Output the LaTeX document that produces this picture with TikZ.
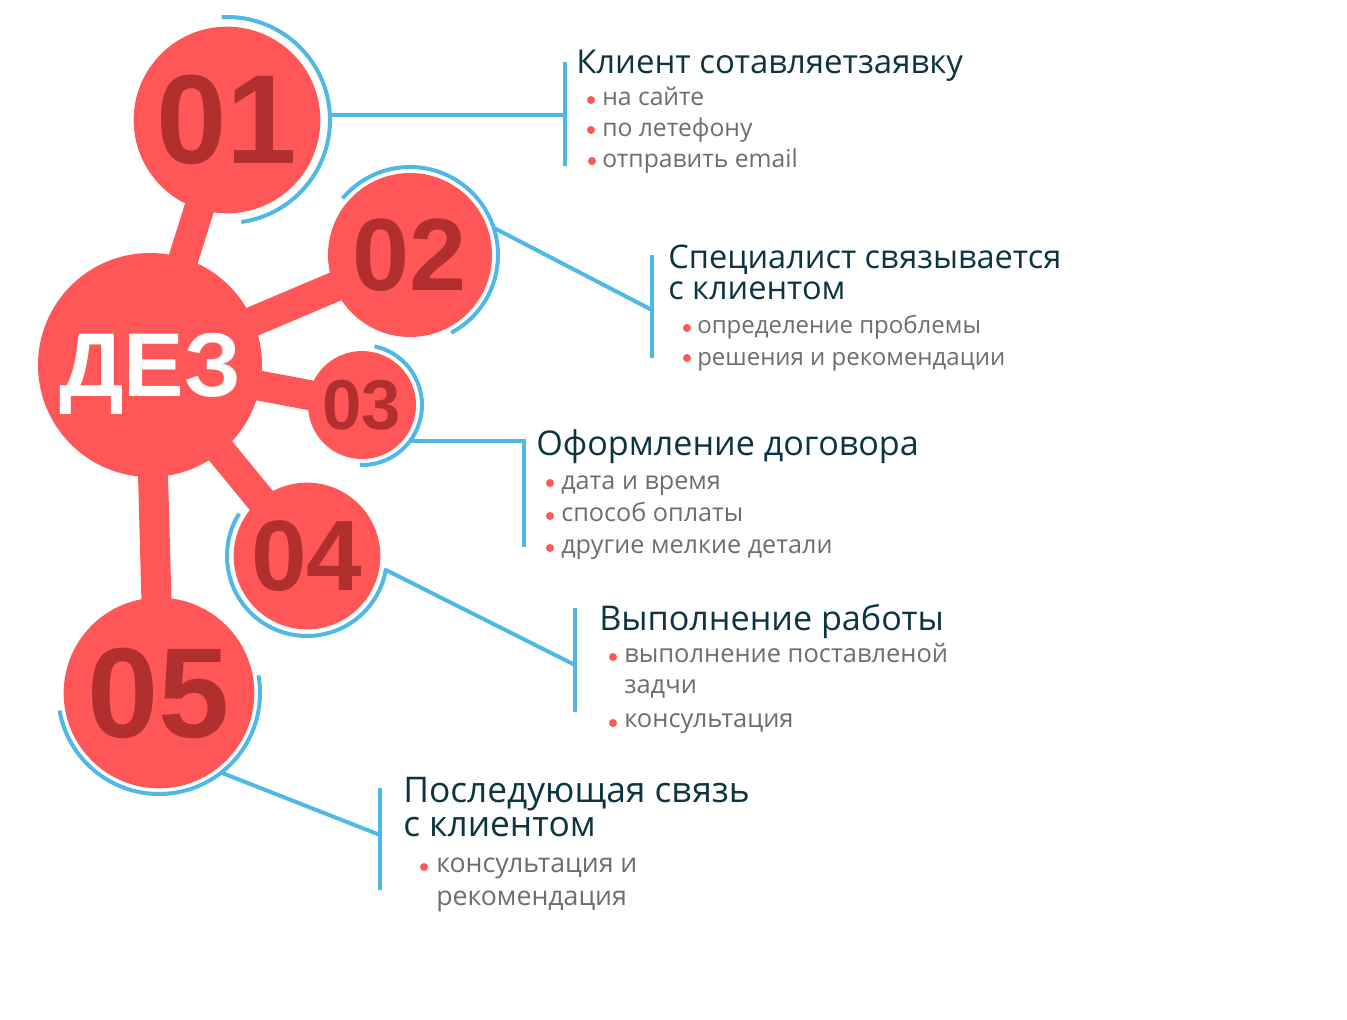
\documentclass[tikz,border=0pt]{standalone}
\usepackage{fontspec}
\setmainfont{Open Sans}
\newfontfamily\numfont{Liberation Sans}
\usetikzlibrary{calc,backgrounds}
\definecolor{ballred}{HTML}{FF5757}
\definecolor{numred}{HTML}{B12F2F}
\definecolor{ringblue}{HTML}{50B8E6}
\definecolor{headcol}{HTML}{0D3441}
\definecolor{itemcol}{HTML}{6B6E70}

\begin{document}
\begin{tikzpicture}[
    x=0.75pt, y=-0.75pt,
    every node/.style={inner sep=0pt},
    ball/.style n args={2}{circle, fill=ballred, minimum size=#1, text=numred,
      font=\numfont\bfseries\fontsize{#2}{#2}\selectfont},
    stem/.style={draw=ballred, line width=22.5pt},
    ring/.style={draw=ringblue, line width=3pt},
    link/.style={draw=ringblue, line width=3pt},
    head/.style={anchor=base west, text=headcol, font=\fontsize{#1}{#1}\selectfont},
    head/.default=24.5pt,
    item/.style={anchor=base west, text=itemcol, font=\fontsize{#1}{#1}\selectfont},
    item/.default=18.5pt,
  ]
    \useasboundingbox (0,0) rectangle (1347,1020);

    % balls
    \node[ball={168pt}{68pt}, text=white, text depth=0pt] (dez) at (150,365) {ДЕЗ};
    \node[ball={140pt}{95pt}] (c1) at (227,120) {01};
    \node[ball={123pt}{77pt}] (c2) at (410,255) {02};
    \node[ball={81pt}{53pt}] (c3) at (362,405) {03};
    \node[ball={110pt}{75pt}] (c4) at (307,556) {04};
    \node[ball={143pt}{96pt}] (c5) at (159,693) {05};

    % stems behind the balls
    \begin{scope}[on background layer]
      \draw[stem] (dez.center) -- (c1.center);
      \draw[stem] (dez.center) -- (c2.center);
      \draw[stem] (dez.center) -- (c3.center);
      \draw[stem] (dez.center) -- (c4.center);
      \draw[stem] (dez.center) -- (c5.center);
    \end{scope}

    % blue rings
    \draw[ring] (c1.center) ++(-93:103) arc[start angle=-93, end angle=82, radius=103];
    \draw[ring] (c2.center) ++(-140:88) arc[start angle=-140, end angle=62, radius=88];
    \draw[ring] (c3.center) ++(-78:60) arc[start angle=-78, end angle=92, radius=60];
    \draw[ring] (c4.center) ++(-148:80) arc[start angle=-148, end angle=-351, radius=80];
    \draw[ring] (c5.center) ++(-190:101) arc[start angle=-190, end angle=-370, radius=101];

    % link ends and bars
    \coordinate (a1) at ($(c1.center)+(-3:103)$);
    \coordinate (a2) at ($(c2.center)+(-18:88)$);
    \coordinate (a3) at ($(c3.center)+(37:60)$);
    \coordinate (a4) at ($(c4.center)+(10:80)$);
    \coordinate (a5) at ($(c5.center)+(52:101)$);
    \coordinate (b1n) at (565,62);  \coordinate (b1s) at (565,166);
    \coordinate (b2n) at (652,255); \coordinate (b2s) at (652,358);
    \coordinate (b3s) at (524,547);
    \coordinate (b4n) at (575,608); \coordinate (b4s) at (575,712);
    \coordinate (b5n) at (380,788); \coordinate (b5s) at (380,890);

    \draw[link] (a1) -- (a1 -| b1n);
    \draw[link] (b1n) -- (b1s);
    \draw[link] (a2) -- (652,310);
    \draw[link] (b2n) -- (b2s);
    \draw[link] (a3) -| (b3s);
    \draw[link] (a4) -- (575,665);
    \draw[link] (b4n) -- (b4s);
    \draw[link] (a5) -- (380,835);
    \draw[link] (b5n) -- (b5s);

    % bullet dots
    \foreach \x/\y in {591/100, 591/130, 592/161, 687/328, 687/358,
                       550/483, 550/516, 550/548, 613/657, 613/723, 424/867}
      \fill[ballred] (\x,\y) circle[radius=4];

    % texts
    \node[head=24.7pt] (h1) at (576,74) {Клиент сотавляетзаявку};
    \node[item] (i1a) at (602,106) {на сайте};
    \node[item] (i1b) at (602,137) {по летефону};
    \node[item] (i1c) at (602,168) {отправить email};

    \node[head=24.4pt] (h2) at (668,268) {Специалист связывается};
    \node[head=24.4pt] (h2b) at (668,300) {с клиентом};
    \node[item=18pt] (i2a) at (697,334) {определение проблемы};
    \node[item=18pt] (i2b) at (697,365) {решения и рекомендации};

    \node[head=25.6pt] (h3) at (536,455) {Оформление договора};
    \node[item=18.9pt] (i3a) at (561,489) {дата и время};
    \node[item=18.9pt] (i3b) at (561,521) {способ оплаты};
    \node[item=18.9pt] (i3c) at (561,553) {другие мелкие детали};

    \node[head=25.6pt] (h4) at (599,630) {Выполнение работы};
    \node[item=19.1pt] (i4a) at (624,662) {выполнение поставленой};
    \node[item=19.1pt] (i4b) at (624,693) {задчи};
    \node[item=19.1pt] (i4c) at (624,727) {консультация};

    \node[head=26.5pt] (h5) at (403,802) {Последующая связь};
    \node[head=26.5pt] (h5b) at (403,836) {с клиентом};
    \node[item=20pt] (i5a) at (436,872) {консультация и};
    \node[item=20pt] (i5b) at (436,905) {рекомендация};
  \end{tikzpicture}
\end{document}
